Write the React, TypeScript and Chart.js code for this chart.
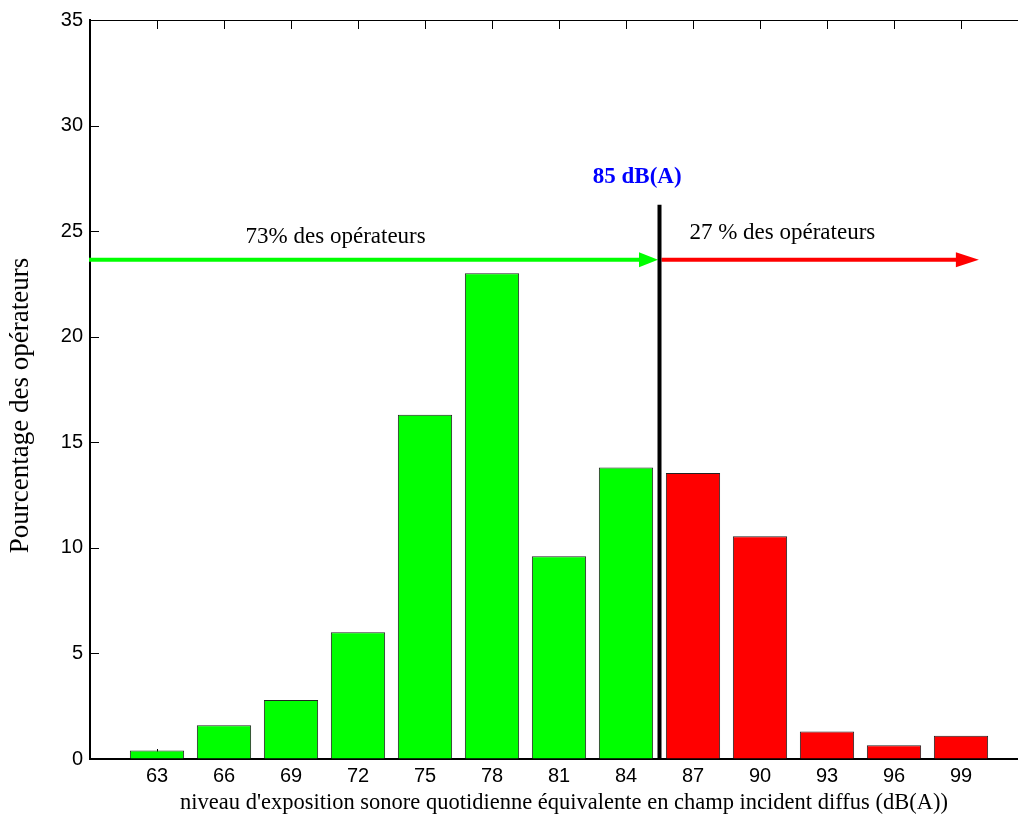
import React, { useEffect, useRef } from 'react';
import { Chart, registerables } from 'chart.js';

Chart.register(...registerables);

// ---- data ----
const levels = [63, 66, 69, 72, 75, 78, 81, 84, 87, 90, 93, 96, 99];
const percentages = [0.4, 1.6, 2.8, 6.0, 16.3, 23.0, 9.6, 13.8, 13.55, 10.55, 1.3, 0.65, 1.1];
const yTickValues = [0, 5, 10, 15, 20, 25, 30, 35];

// ---- annotations (data units) ----
const threshold = 85.5;
const thresholdLabel = '85 dB(A)';
const leftLabel = '73% des opérateurs';
const rightLabel = '27 % des opérateurs';
const arrowLevel = 23.65;
const lineTop = 26.25;
const arrowEnd = 99.8;
const leftLabelPos = { x: 71, y: 24.44 };
const rightLabelPos = { x: 91, y: 24.63 };
const thresholdLabelPos = { x: 84.5, y: 27.28 };

const xTitle = "niveau d'exposition sonore quotidienne équivalente en champ incident diffus (dB(A))";
const yTitle = 'Pourcentage des opérateurs';

const SERIF = "'Times New Roman', 'Liberation Serif', serif";
const SANS = "Arial, 'Liberation Sans', sans-serif";

const GREEN = '#00ff00';
const RED = '#ff0000';

const frameTicks = {
  id: 'frameTicks',
  beforeDatasetsDraw(chart: any) {
    const { ctx, chartArea: a, scales } = chart;
    const xs = scales.x;
    const ys = scales.y;
    ctx.save();
    ctx.strokeStyle = '#000';
    ctx.lineWidth = 1;
    ctx.beginPath();
    ctx.moveTo(a.left, a.top + 0.5);
    ctx.lineTo(a.right, a.top + 0.5);
    ctx.moveTo(a.right - 0.5, a.top);
    ctx.lineTo(a.right - 0.5, a.bottom);
    xs.ticks.forEach((t: any) => {
      const px = Math.round(xs.getPixelForValue(t.value)) + 0.5;
      ctx.moveTo(px, a.bottom);
      ctx.lineTo(px, a.bottom - 10);
      ctx.moveTo(px, a.top);
      ctx.lineTo(px, a.top + 9);
    });
    ys.ticks.forEach((t: any) => {
      const py = Math.round(ys.getPixelForValue(t.value)) + 0.5;
      ctx.moveTo(a.left, py);
      ctx.lineTo(a.left + 9, py);
      ctx.moveTo(a.right, py);
      ctx.lineTo(a.right - 9, py);
    });
    ctx.stroke();
    ctx.restore();
  },
};

function drawArrow(ctx: CanvasRenderingContext2D, x0: number, x1: number, yy: number, color: string, head: number) {
  ctx.strokeStyle = color;
  ctx.lineWidth = 4;
  ctx.beginPath();
  ctx.moveTo(x0, yy);
  ctx.lineTo(x1 - head + 1, yy);
  ctx.stroke();
  ctx.fillStyle = color;
  ctx.beginPath();
  ctx.moveTo(x1, yy);
  ctx.lineTo(x1 - head, yy - 7.5);
  ctx.lineTo(x1 - head, yy + 7.5);
  ctx.closePath();
  ctx.fill();
}

const annotations = {
  id: 'annotations',
  afterDatasetsDraw(chart: any) {
    const { ctx, chartArea: a, scales } = chart;
    const x = scales.x;
    const y = scales.y;
    const xt = x.getPixelForValue(threshold);
    const ya = y.getPixelForValue(arrowLevel);
    ctx.save();
    drawArrow(ctx, a.left - 1, xt - 1.5, ya, GREEN, 19);
    drawArrow(ctx, xt + 2, x.getPixelForValue(arrowEnd), ya, RED, 23);
    const yTop = y.getPixelForValue(lineTop);
    ctx.fillStyle = '#000';
    ctx.fillRect(xt - 2, yTop, 4, a.bottom - yTop);

    ctx.textAlign = 'center';
    ctx.textBaseline = 'alphabetic';
    ctx.fillStyle = '#000';
    ctx.font = `23px ${SERIF}`;
    ctx.fillText(leftLabel, x.getPixelForValue(leftLabelPos.x), y.getPixelForValue(leftLabelPos.y));
    ctx.fillText(rightLabel, x.getPixelForValue(rightLabelPos.x), y.getPixelForValue(rightLabelPos.y));
    ctx.fillStyle = '#0000ff';
    ctx.font = `bold 23px ${SERIF}`;
    ctx.fillText(thresholdLabel, x.getPixelForValue(thresholdLabelPos.x), y.getPixelForValue(thresholdLabelPos.y));

    // axis titles
    ctx.fillStyle = '#000';
    ctx.font = `22.5px ${SERIF}`;
    ctx.fillText(xTitle, a.left + 474, a.bottom + 50);
    ctx.save();
    ctx.translate(21, (a.top + a.bottom) / 2 + 16);
    ctx.rotate(-Math.PI / 2);
    ctx.font = `27px ${SERIF}`;
    ctx.textBaseline = 'middle';
    ctx.fillText(yTitle, 0, 0);
    ctx.restore();
    ctx.restore();
  },
};

export default function App() {
  const ref = useRef<HTMLCanvasElement | null>(null);
  useEffect(() => {
    if (!ref.current) return;
    const points = levels.map((lv, i) => ({ x: lv, y: percentages[i] }));
    const chart = new Chart(ref.current, {
      type: 'bar',
      data: {
        datasets: [
          {
            data: points as any,
            backgroundColor: levels.map((lv) => (lv < threshold ? GREEN : RED)),
            borderColor: '#222',
            borderWidth: 1,
            borderSkipped: 'bottom',
            barPercentage: 0.81,
            categoryPercentage: 1,
          },
        ],
      },
      options: {
        responsive: false,
        maintainAspectRatio: false,
        animation: false,
        layout: { padding: { top: 20, right: 12, left: 0, bottom: 0 } },
        plugins: { legend: { display: false }, tooltip: { enabled: false } },
        scales: {
          x: {
            type: 'linear',
            min: 60,
            max: 102,
            offset: false,
            afterBuildTicks: (s: any) => {
              s.ticks = levels.map((v) => ({ value: v }));
            },
            afterFit: (s: any) => {
              s.height = 55;
            },
            grid: { drawOnChartArea: false, drawTicks: false, offset: false },
            border: { display: true, color: '#000', width: 2 },
            ticks: {
              autoSkip: false,
              maxRotation: 0,
              padding: 5,
              color: '#000',
              font: { family: SANS, size: 20 },
              callback: (v: any) => String(v),
            },
          },
          y: {
            min: 0,
            max: 35,
            afterBuildTicks: (s: any) => {
              s.ticks = yTickValues.map((v) => ({ value: v }));
            },
            afterFit: (s: any) => {
              s.width = 90;
            },
            grid: { drawOnChartArea: false, drawTicks: false },
            border: { display: true, color: '#000', width: 2 },
            ticks: {
              padding: 7,
              color: '#000',
              font: { family: SANS, size: 20 },
              callback: (v: any) => String(v),
            },
          },
        },
      },
      plugins: [frameTicks, annotations],
    });
    return () => chart.destroy();
  }, []);
  return (
    <div
      style={{
        position: 'fixed',
        left: 0,
        top: 0,
        width: 1018,
        height: 814,
        overflow: 'hidden',
        background: '#fff',
      }}
    >
      <canvas ref={ref} width={1040} height={814} style={{ display: 'block' }} />
    </div>
  );
}
